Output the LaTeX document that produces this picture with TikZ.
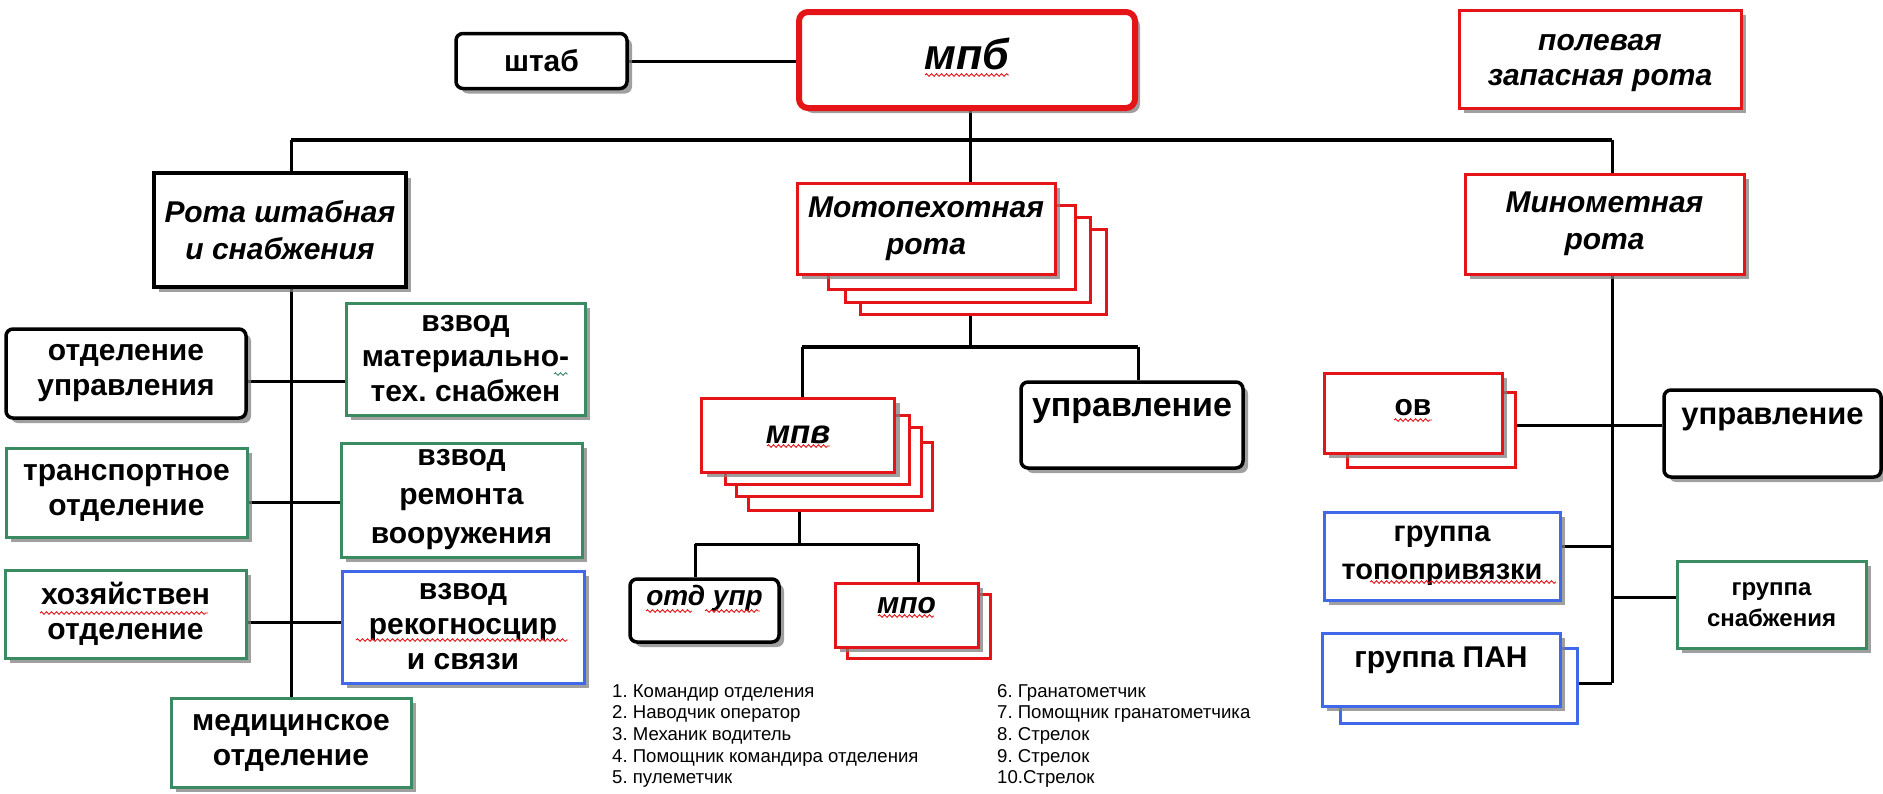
\documentclass[tikz,border=0pt]{standalone}
\usepackage{fontspec}
\setmainfont{Liberation Sans}
\usetikzlibrary{shadows,backgrounds,decorations.pathmorphing,calc}
\definecolor{redc}{RGB}{228,20,24}
\definecolor{grnc}{RGB}{58,138,98}
\definecolor{bluc}{RGB}{64,104,232}
\frenchspacing
\begin{document}
\begin{tikzpicture}[x=1pt,y=-1pt,
  sz/.style 2 args={minimum width=#1pt,minimum height=#2pt},
  bx/.style={fill=white,align=center,inner sep=2pt,font=\fontsize{30}{35}\selectfont\bfseries},
  shad/.style={drop shadow={shadow xshift=5pt,shadow yshift=-5pt,fill=black!50,opacity=.75}},
  blkr/.style={bx,shad,draw=black,line width=3.5pt,rounded corners=7pt},
  blks/.style={bx,shad,draw=black,line width=3.5pt},
  redb/.style={bx,shad,draw=redc,line width=3pt},
  redback/.style={fill=white,draw=redc,line width=3pt},
  grnb/.style={bx,shad,draw=grnc,line width=3pt},
  blub/.style={bx,shad,draw=bluc,line width=3pt},
  bluback/.style={fill=white,draw=bluc,line width=3pt},
  ital/.style={font=\fontsize{30}{37}\selectfont\bfseries\itshape},
  txt/.style={inner sep=0pt,align=center,font=\fontsize{30}{35}\selectfont\bfseries},
  conn/.style={draw=black,line width=3pt},
  squig/.style={draw=redc,line width=0.9pt,decorate,decoration={snake,amplitude=1.3pt,segment length=5pt}},
  legtext/.style={align=left,anchor=north west,inner sep=0pt,font=\fontsize{18.6}{21.7}\selectfont},
]
\useasboundingbox (0,0) rectangle (1883,793);

% ---------- top level ----------
\node[blkr,sz={171}{55}] (shtab) at (541.5,61) {штаб};
\node[redb,line width=6pt,rounded corners=9pt,sz={336}{96}] (mpb) at (967,60) {};
\node[txt,font=\fontsize{43}{48}\selectfont\bfseries\itshape] (mpbt) at (967,54) {мпб};
\node[redb,sz={282}{98}] (pzr) at (1600,59) {};
\node[txt,font=\fontsize{30}{35}\selectfont\bfseries\itshape] (pzrt) at (1600,63) {полевая\\запасная рота};

% ---------- second level ----------
\node[blks,ital,sz={252}{114}] (rsh) at (280,230) {Рота штабная\\и снабжения};

\node[redback,sz={246}{85}] (mrb3) at (983,271.5) {};
\node[redback,sz={245}{85}] (mrb2) at (967.5,259.5) {};
\node[redback,sz={247}{84}] (mrb1) at (951.5,247) {};
\node[redb,ital,sz={258}{91}] (mr) at (926,228.5) {Мотопехотная\\рота};

\node[redb,ital,sz={279}{100}] (minr) at (1604.5,224) {Минометная\\рота};

% ---------- left column ----------
\node[blkr,sz={240}{89}] (otu) at (126,373.5) {отделение\\управления};
\node[grnb,sz={239}{112}] (vmt) at (465.5,359) {взвод\\материально-\\тех. снабжен};
\node[grnb,sz={241}{89}] (tro) at (126.5,492.5) {транспортное\\отделение};
\node[grnb,sz={241}{114},font=\fontsize{30}{39}\selectfont\bfseries] (vrv) at (461.5,500) {взвод\\ремонта\\вооружения};
\node[grnb,sz={241}{88}] (hoz) at (125.5,614) {хозяйствен\\отделение};
\node[blub,sz={242}{112}] (vrs) at (463,627) {взвод\\рекогносцир\\и связи};
\node[grnb,sz={240}{89}] (med) at (291,742.5) {медицинское\\отделение};

% ---------- middle ----------
\node[redback,sz={184}{68}] (mpvb3) at (840.5,476) {};
\node[redback,sz={185}{69}] (mpvb2) at (829,461.5) {};
\node[redback,sz={184}{69}] (mpvb1) at (817.5,449.5) {};
\node[redb,ital,font=\fontsize{33}{38}\selectfont\bfseries\itshape,sz={193}{74}] (mpv) at (798,435) {мпв};

\node[blkr,sz={222}{86}] (upr1) at (1132,425) {};
\node[txt,font=\fontsize{34}{38}\selectfont\bfseries] (upr1t) at (1132,411) {управление};

\node[blkr,sz={149}{63}] (otd) at (704.5,610.5) {};
\node[txt,font=\fontsize{28}{32}\selectfont\bfseries\itshape] (otdt) at (704.5,598) {отд упр};

\node[redback,sz={143}{64}] (mpob) at (918.5,626) {};
\node[redb,sz={143}{64}] (mpo) at (906.5,615) {};
\node[txt,font=\fontsize{30}{35}\selectfont\bfseries\itshape] (mpot) at (906.5,606) {мпо};

% ---------- right ----------
\node[redback,sz={168}{75}] (ovb) at (1431,429.5) {};
\node[redb,sz={178}{80}] (ov) at (1413,413) {};
\node[txt] (ovt) at (1413,408) {ов};

\node[blkr,sz={217}{87}] (upr2) at (1772.5,433.5) {};
\node[txt,font=\fontsize{31}{36}\selectfont\bfseries] (upr2t) at (1772.5,419) {управление};

\node[blub,sz={236}{88},font=\fontsize{29}{38}\selectfont\bfseries] (topo) at (1442,556) {группа\\топопривязки};
\node[grnb,sz={189}{87},font=\fontsize{24}{31}\selectfont\bfseries] (snab) at (1771.5,604.5) {группа\\снабжения};

\node[bluback,sz={237}{75}] (panb) at (1458.5,685.5) {};
\node[blub,sz={238}{73}] (pan) at (1441,669.5) {};
\node[txt] (pant) at (1441,660) {группа ПАН};

% ---------- legend ----------
\node[legtext] (leg1) at (612,684) {1. Командир отделения\\2. Наводчик оператор\\3. Механик водитель\\4. Помощник командира отделения\\5. пулеметчик};
\node[legtext] (leg2) at (997,684) {6. Гранатометчик\\7. Помощник гранатометчика\\8. Стрелок\\9. Стрелок\\10.Стрелок};

% ---------- connectors ----------
\coordinate (busL) at (291,140);
\coordinate (busR) at (1612,140);
\coordinate (bus2L) at (802,347);
\coordinate (bus2R) at (1138,347);
\coordinate (bus3L) at (695,544);
\coordinate (bus3R) at (918,544);
\coordinate (h1) at (291,381);
\coordinate (h2) at (291,502);
\coordinate (h3) at (291,622);
\coordinate (r1) at (1612,425);
\coordinate (r2) at (1612,546);
\coordinate (r3) at (1612,597);
\coordinate (r4) at (1612,683);
\begin{pgfonlayer}{background}
\draw[conn] (shtab.east) -- (mpb.west |- shtab.east);
\draw[conn,line width=4pt] (busL) -- (busR);
\draw[conn] (mpb.south -| 970,0) -- (bus2L -| 970,0);
\draw[conn] (busL) -- (busL |- rsh.north);
\draw[conn] (busR) -- (busR |- minr.north);
\draw[conn] (busL |- rsh.south) -- (busL |- med.north);
\draw[conn] (h1 -| otu.east) -- (h1 -| vmt.west);
\draw[conn] (h2 -| tro.east) -- (h2 -| vrv.west);
\draw[conn] (h3 -| hoz.east) -- (h3 -| vrs.west);
\draw[conn,line width=4pt] (bus2L) -- (bus2R);
\draw[conn] (bus2L) -- (bus2L |- mpv.north);
\draw[conn] (bus2R) -- (bus2R |- upr1.north);
\draw[conn] (mpv.south -| 799,0) -- (bus3L -| 799,0);
\draw[conn] (bus3L) -- (bus3R);
\draw[conn] (bus3L) -- (bus3L |- otd.north);
\draw[conn] (bus3R) -- (bus3R |- mpo.north);
\draw[conn] (busR |- minr.south) -- (r4);
\draw[conn] (r1 -| ovb.east) -- (r1 -| upr2.west);
\draw[conn] (r2 -| topo.east) -- (r2);
\draw[conn] (r3) -- (r3 -| snab.west);
\draw[conn] (r4 -| panb.east) -- (r4);
\end{pgfonlayer}

% ---------- spell-check squiggles ----------
\draw[squig] (925,75) -- (1009,75);
\draw[squig] (767,446) -- (830,446);
\draw[squig] (1394,420) -- (1432,420);
\draw[squig] (646,611) -- (692,611);
\draw[squig] (705,611) -- (760,611);
\draw[squig] (878,616) -- (934,616);
\draw[squig] (40,613) -- (208,613);
\draw[squig] (356,640) -- (568,640);
\draw[squig] (1370,582) -- (1556,582);
\draw[squig,draw=grnc] (554,374) -- (568,374);
\end{tikzpicture}
\end{document}
